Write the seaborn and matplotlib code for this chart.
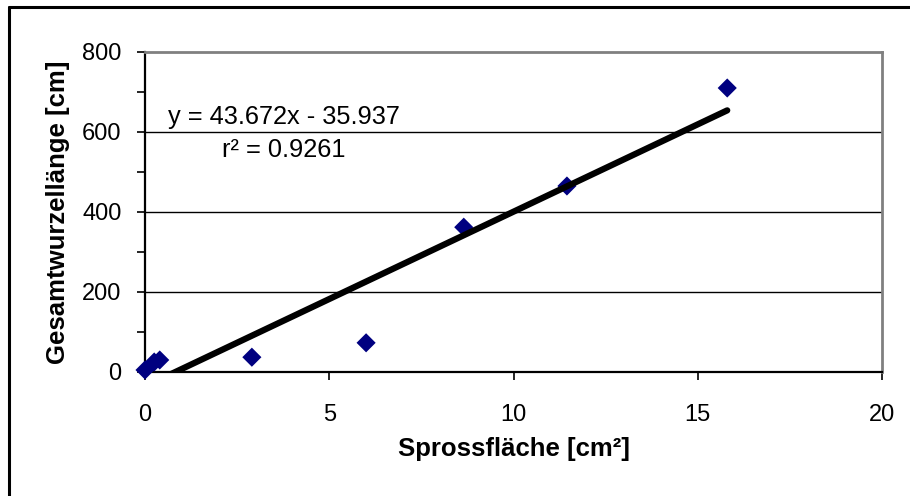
import matplotlib
matplotlib.use("Agg")
import matplotlib.pyplot as plt
from matplotlib.lines import Line2D
from matplotlib.ticker import MultipleLocator
import seaborn as sns
import pandas as pd
import numpy as np

# Measured samples
spross_flaeche = [0.0, 0.25, 0.4, 2.9, 6.0, 8.65, 11.45, 15.8]
wurzel_laenge = [5, 25, 30, 37, 73, 362, 465, 710]

# Linear trendline as reported on the chart
slope = 43.672
intercept = -35.937
r_squared = 0.9261

x_label = "Sprossfläche [cm²]"
y_label = "Gesamtwurzellänge [cm]"
x_ticks = [0, 5, 10, 15, 20]
y_ticks = [0, 200, 400, 600, 800]

sns.set_theme(style="white")
plt.rcParams["font.family"] = ["Liberation Sans", "DejaVu Sans"]

df = pd.DataFrame({"x": spross_flaeche, "y": wurzel_laenge})

fig = plt.figure(figsize=(9.10, 4.96), dpi=100)
ax = fig.add_axes([145 / 910, 1 - 372 / 496, 737 / 910, 320 / 496])

# data points
sns.scatterplot(data=df, x="x", y="y", ax=ax, marker="D", s=95,
                color="#000080", edgecolor="none", linewidth=0,
                clip_on=False, zorder=3)

# trendline across the data range
x_line = np.array([min(spross_flaeche), max(spross_flaeche)])
line_df = pd.DataFrame({"x": x_line, "y": slope * x_line + intercept})
sns.lineplot(data=line_df, x="x", y="y", ax=ax, color="black",
             linewidth=4.5, solid_capstyle="round", zorder=4)

ax.set_xlim(0, 20)
ax.set_ylim(0, 800)
ax.set_xticks(x_ticks)
ax.set_yticks(y_ticks)
ax.yaxis.set_minor_locator(MultipleLocator(100))

# horizontal gridlines (without the frame rows)
for yv in y_ticks[1:-1]:
    ax.axhline(yv, color="black", linewidth=1.0, zorder=1)

for side in ["left", "bottom"]:
    ax.spines[side].set_color("black")
    ax.spines[side].set_linewidth(1.6)
for side in ["top", "right"]:
    ax.spines[side].set_color("#808080")
    ax.spines[side].set_linewidth(2.0)

ax.tick_params(axis="both", which="major", direction="out", length=6,
               width=1.2, color="black", labelsize=17, labelcolor="black")
ax.tick_params(axis="y", which="minor", direction="out", length=6,
               width=1.2, color="black", left=True)
ax.tick_params(axis="y", which="major", pad=11, left=True)
ax.tick_params(axis="x", which="major", pad=17, bottom=True)

ax.set_xlabel(x_label, fontsize=18.5, fontweight="bold", color="black")
ax.set_ylabel(y_label, fontsize=18.5, fontweight="bold", color="black")
ax.xaxis.set_label_coords(0.5, -0.24)
ax.xaxis.label.set_verticalalignment("center")
ax.yaxis.set_label_coords(-0.118, 0.5)
ax.yaxis.label.set_verticalalignment("center")

# trendline equation
ax.text(3.76, 637, f"y = {slope}x - {abs(intercept)}", ha="center",
        va="center", fontsize=18.3, color="black", zorder=5)
ax.text(3.76, 555, f"r² = {r_squared}", ha="center", va="center",
        fontsize=18.3, color="black", zorder=5)

# chart frame
fig.add_artist(Line2D([9 / 910, 1.0], [1 - 7 / 496, 1 - 7 / 496],
                      transform=fig.transFigure, color="black", linewidth=2.2))
fig.add_artist(Line2D([9 / 910, 9 / 910], [0.0, 1 - 7 / 496],
                      transform=fig.transFigure, color="black", linewidth=2.2))

fig.savefig("out.png", dpi=100, facecolor="white")
